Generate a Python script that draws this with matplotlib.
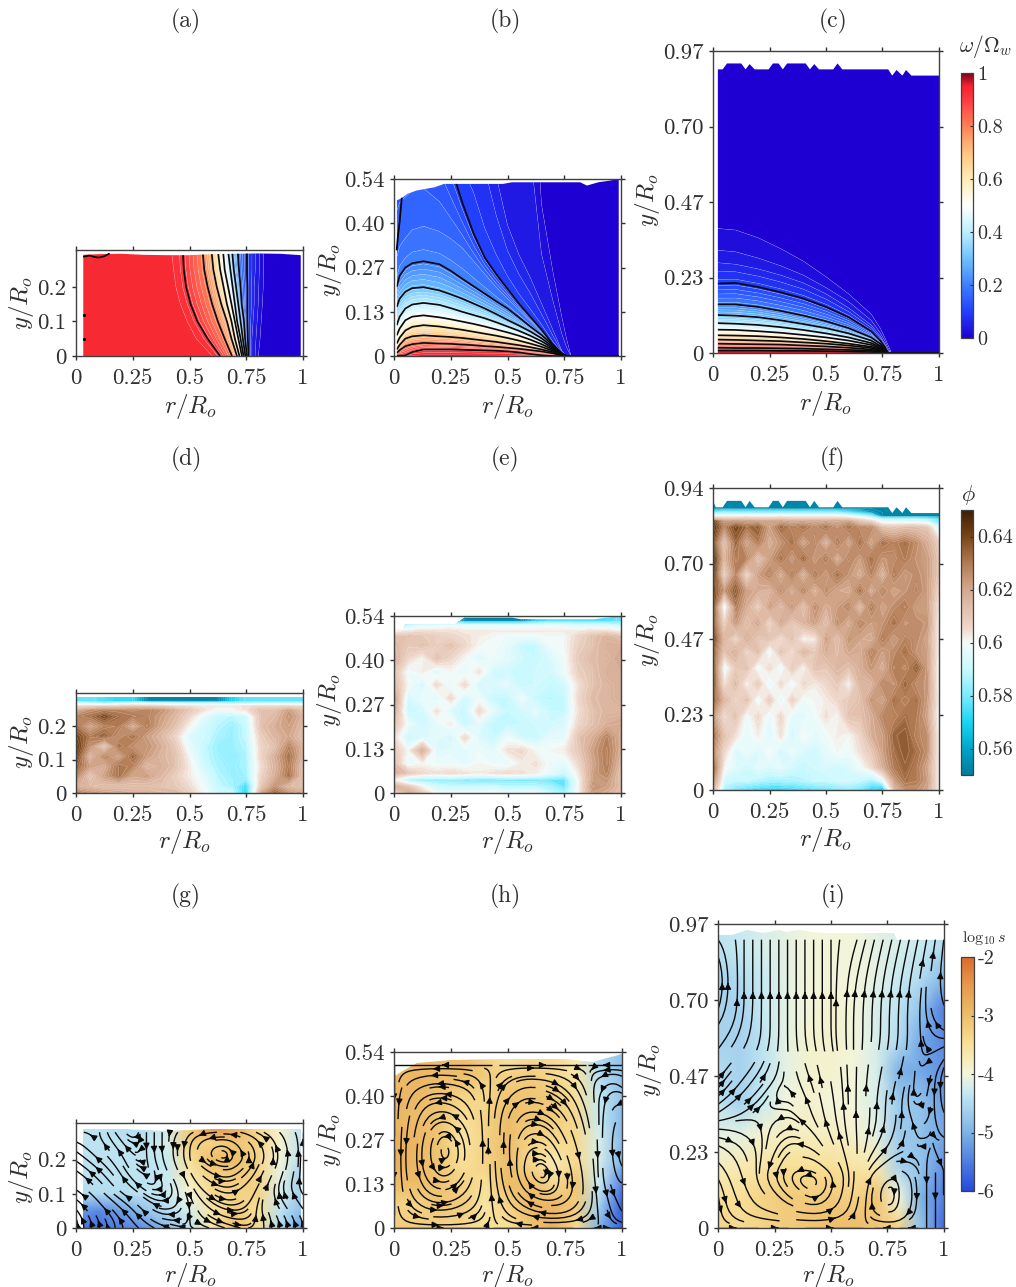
import numpy as np
import matplotlib
matplotlib.use("Agg")
import matplotlib.pyplot as plt
from matplotlib.colors import LinearSegmentedColormap, Normalize
from matplotlib.patches import Polygon
from matplotlib.cm import ScalarMappable

W, H = 1016, 1287
plt.rcParams['mathtext.fontset'] = 'cm'
plt.rcParams['font.family'] = ['cmr10', 'DejaVu Serif']
plt.rcParams['axes.formatter.use_mathtext'] = True
DARK = '#303030'

# ---------- omega panels: position of each iso-level
a_y = [0, .05, .1, .15, .2, .25, .31]
a_levels = [.95, .93, .9, .8, .7, .6, .5, .4, .3, .2, .1, .05, 0, 0]
a_r = [
    [0, 0, 0, 0, 0, 0, 0],
    [.60, .53, .49, .46, .44, .43, .42],
    [.635, .58, .535, .505, .485, .475, .47],
    [.687, .655, .625, .60, .58, .565, .557],
    [.709, .685, .665, .64, .62, .605, .596],
    [.72, .70, .685, .665, .65, .635, .624],
    [.731, .715, .70, .685, .67, .655, .647],
    [.738, .725, .71, .70, .69, .68, .669],
    [.746, .735, .725, .715, .705, .695, .687],
    [.753, .745, .74, .73, .725, .718, .712],
    [.76, .757, .755, .755, .755, .753, .753],
    [.775, .775, .78, .785, .785, .79, .79],
    [.81, .82, .825, .83, .835, .835, .835],
    [1, 1, 1, 1, 1, 1, 1],
]
a_top_r = [.035, .06, .08, .10, .125, .145]
a_top_y = [.288, .291, .287, .285, .289, .296]
a_dot_r = [.036, .036]
a_dot_y = [.118, .05]
a_clip_r = [.032, .10, .20, .30, .40, .50, .60, .70, .80, .90, .99]
a_clip_y = [.293, .295, .296, .293, .292, .292, .295, .296, .297, .296, .292]

b_r = [.012, .025, .05, .08, .13, .2, .25, .3, .35, .4, .45, .5, .55, .6, .65, .7, .74, .76, .78, 1]
b_levels = [.96, .9, .8, .7, .6, .5, .4, .3, .2, .17, .1, .05, .005, 0]
b_y = [
    [0] * 20,
    [.001, .001, .002, .012, .02, .02, .02, .019, .018, .017, .016, .014, .011, .006, .002, 0, 0, 0, 0, 0],
    [.009, .018, .03, .036, .04, .038, .037, .035, .033, .03, .028, .025, .022, .018, .014, .008, .002, 0, 0, 0],
    [.02, .034, .053, .06, .063, .06, .058, .055, .051, .047, .043, .038, .033, .027, .02, .012, .003, 0, 0, 0],
    [.038, .056, .078, .089, .094, .09, .085, .08, .074, .068, .062, .055, .047, .038, .028, .016, .004, 0, 0, 0],
    [.063, .084, .109, .12, .124, .118, .112, .105, .098, .09, .081, .072, .062, .05, .036, .02, .005, 0, 0, 0],
    [.094, .12, .145, .157, .162, .156, .146, .135, .125, .115, .103, .09, .077, .062, .045, .024, .006, 0, 0, 0],
    [.15, .175, .196, .207, .21, .20, .188, .175, .16, .145, .128, .11, .093, .075, .054, .028, .007, 0, 0, 0],
    [.211, .245, .27, .283, .289, .28, .26, .236, .213, .19, .167, .145, .118, .09, .064, .033, .008, 0, 0, 0],
    [.30, .335, .36, .385, .396, .38, .358, .33, .29, .25, .21, .175, .14, .105, .07, .034, .008, 0, 0, 0],
    [.8, .8, .8, .8, .8, .7, .58, .47, .375, .30, .25, .205, .16, .12, .08, .035, .008, 0, 0, 0],
    [1, 1, 1, 1, 1, 1, 1, 1, 1, .75, .55, .40, .31, .24, .16, .08, .015, 0, 0, 0],
    [1.2, 1.2, 1.2, 1.2, 1.2, 1.2, 1.2, 1.2, 1.2, 1.2, 1.2, 1.2, 1.2, 1.1, .5, .28, .13, .06, 0, 0],
    [2] * 20,
]
b_wall_r = [.012, .018, .025, .03, .034]
b_wall_y = [.325, .37, .41, .45, .48]
b_clip_r = [.012, .03, .06, .10, .18, .22, .35, .48, .52, .60, .82, .85, .90, .95, .99]
b_clip_y = [.475, .48, .495, .505, .515, .525, .525, .525, .53, .53, .53, .52, .53, .535, .54]

c_r = [.02, .1, .2, .3, .4, .5, .6, .7, .74, .76, .775, .79, 1]
c_levels = [.96, .95, .9, .8, .7, .6, .5, .4, .3, .2, .1, .05, .03, .01, 0]
c_y = [
    [0] * 13,
    [.008, .008, .008, .007, .007, .006, .005, .003, .002, .001, 0, 0, 0],
    [.017, .016, .016, .015, .014, .012, .01, .007, .004, .002, 0, 0, 0],
    [.03, .029, .028, .027, .024, .021, .017, .011, .007, .003, 0, 0, 0],
    [.043, .042, .04, .038, .034, .03, .024, .016, .009, .004, 0, 0, 0],
    [.057, .056, .054, .05, .045, .038, .03, .02, .012, .005, 0, 0, 0],
    [.075, .074, .07, .065, .058, .05, .04, .026, .015, .006, 0, 0, 0],
    [.096, .094, .09, .083, .074, .063, .05, .032, .019, .008, 0, 0, 0],
    [.122, .12, .115, .105, .093, .08, .063, .04, .023, .01, 0, 0, 0],
    [.156, .156, .148, .135, .12, .102, .08, .05, .03, .014, 0, 0, 0],
    [.223, .225, .212, .195, .175, .148, .115, .07, .04, .02, 0, 0, 0],
    [.29, .285, .27, .25, .225, .19, .145, .09, .055, .03, .008, 0, 0],
    [.33, .325, .305, .28, .25, .21, .165, .105, .065, .04, .015, 0, 0],
    [.40, .395, .37, .335, .295, .245, .19, .125, .08, .05, .025, 0, 0],
    [2, 2, 2, 2, 2, 2, 2, 2, 2, 2, 2, 2, 2],
]
c_clip_r = [.021, .043, .062, .125, .144, .162, .184, .246, .265, .29, .309, .328, .41,
            .429, .448, .469, .532, .551, .572, .775, .793, .812, .838, .854, .878, 1.0]
c_clip_y = [.911, .911, .93, .93, .911, .928, .911, .911, .93, .93, .911, .93, .93,
            .911, .928, .911, .911, .93, .911, .911, .891, .909, .891, .909, .891, .891]

# ---------- phi panels (values x 1000)
d_e_r = [0, .0625, .125, .1875, .25, .3125, .375, .4375, .5, .5625, .625, .6875, .75, .8125, .875, .9375, 1]
d_y = [0, .02, .05, .08, .11, .14, .17, .20, .23, .25, .262, .268, .275, .29]
phi_d = [
    [630, 625, 622, 620, 618, 618, 615, 615, 608, 600, 592, 590, 570, 620, 635, 625, 620],
    [618, 615, 612, 612, 612, 612, 612, 610, 605, 598, 590, 586, 572, 610, 625, 615, 612],
    [628, 610, 622, 632, 620, 622, 615, 608, 602, 596, 588, 584, 585, 606, 618, 632, 612],
    [635, 622, 618, 632, 628, 615, 618, 612, 602, 592, 586, 584, 586, 604, 616, 630, 612],
    [642, 615, 628, 620, 634, 622, 616, 612, 600, 590, 585, 583, 586, 606, 618, 632, 616],
    [645, 625, 610, 632, 625, 625, 618, 610, 596, 590, 584, 584, 588, 606, 612, 628, 616],
    [640, 630, 635, 625, 632, 622, 615, 606, 594, 592, 586, 584, 590, 608, 616, 620, 612],
    [632, 620, 628, 630, 618, 630, 620, 612, 600, 592, 588, 584, 590, 612, 618, 622, 614],
    [628, 632, 640, 632, 630, 628, 622, 615, 606, 596, 590, 588, 592, 612, 614, 625, 616],
    [618, 625, 628, 628, 626, 628, 625, 618, 610, 604, 598, 600, 604, 612, 612, 622, 612],
    [605, 606, 610, 610, 612, 612, 610, 605, 604, 602, 602, 602, 604, 606, 606, 606, 604],
    [592, 590, 585, 590, 592, 590, 588, 586, 585, 585, 585, 585, 587, 590, 590, 590, 590],
    [578, 578, 575, 572, 572, 552, 552, 552, 552, 552, 552, 570, 578, 578, 578, 578, 578],
    [578, 578, 575, 572, 572, 552, 552, 552, 552, 552, 552, 570, 578, 578, 578, 578, 578],
]
d_clip_r = [0, 1]
d_clip_y = [.287, .287]

e_y = [0, .02, .04, .06, .09, .13, .17, .21, .25, .29, .33, .37, .41, .45, .48, .495, .51, .525, .54]
phi_e = [
    [605, 620, 610, 598, 598, 598, 598, 600, 598, 598, 598, 590, 585, 600, 622, 618, 612],
    [622, 612, 600, 592, 590, 590, 590, 590, 588, 588, 588, 585, 578, 600, 625, 622, 614],
    [600, 585, 582, 582, 582, 580, 578, 578, 580, 580, 580, 578, 578, 600, 622, 624, 612],
    [618, 612, 606, 604, 606, 604, 602, 604, 606, 604, 602, 596, 590, 602, 622, 628, 612],
    [614, 596, 600, 598, 598, 596, 600, 598, 596, 602, 604, 598, 596, 606, 620, 630, 615],
    [610, 600, 620, 594, 596, 596, 598, 596, 604, 606, 600, 600, 602, 610, 622, 630, 618],
    [605, 590, 594, 596, 592, 606, 594, 590, 598, 592, 590, 596, 596, 612, 618, 628, 618],
    [612, 598, 592, 596, 602, 590, 596, 588, 590, 590, 592, 592, 594, 606, 612, 618, 620],
    [620, 590, 592, 604, 594, 590, 606, 596, 590, 592, 596, 590, 590, 604, 612, 616, 616],
    [625, 592, 598, 594, 606, 592, 598, 590, 590, 598, 590, 588, 590, 606, 614, 616, 618],
    [615, 600, 592, 606, 596, 606, 592, 594, 596, 590, 592, 590, 592, 604, 612, 616, 618],
    [612, 598, 602, 594, 600, 596, 604, 592, 592, 590, 592, 592, 598, 608, 612, 618, 618],
    [618, 606, 600, 612, 606, 600, 594, 598, 596, 592, 590, 594, 598, 610, 614, 616, 620],
    [615, 610, 612, 608, 612, 606, 600, 600, 596, 590, 590, 598, 600, 608, 612, 618, 618],
    [612, 612, 610, 608, 606, 604, 602, 600, 598, 598, 598, 600, 600, 606, 612, 616, 612],
    [598, 602, 604, 604, 604, 602, 602, 602, 602, 602, 602, 602, 602, 602, 604, 604, 600],
    [575, 590, 596, 596, 598, 596, 596, 596, 596, 596, 596, 598, 596, 594, 594, 594, 590],
    [552, 570, 575, 578, 575, 552, 552, 552, 552, 552, 570, 575, 575, 575, 575, 575, 578],
    [552, 570, 575, 578, 575, 552, 552, 552, 552, 552, 570, 575, 575, 575, 575, 575, 578],
]
e_clip_r = [0, .04, .05, .27, .31, .52, .56, .88, 1]
e_clip_y = [.50, .50, .515, .515, .535, .535, .53, .53, .54]

f_r = [0, .05, .1, .15, .2, .25, .3, .35, .4, .45, .5, .55, .6, .65, .7, .75, .8, .85, .9, .95, 1]
f_y = [0, .03, .07, .12, .17, .23, .28, .33, .38, .43, .47, .52, .57, .62, .67, .72, .77, .82, .84, .852, .864, .876, .94]
phi_f = [
    [620, 585, 578, 575, 572, 570, 570, 572, 574, 576, 578, 580, 582, 578, 570, 558, 615, 625, 625, 620, 600],
    [630, 592, 590, 590, 588, 586, 586, 586, 588, 590, 590, 592, 592, 590, 585, 595, 622, 632, 630, 622, 600],
    [640, 600, 595, 592, 596, 594, 596, 592, 590, 592, 594, 592, 594, 598, 605, 618, 630, 634, 630, 620, 600],
    [628, 606, 594, 598, 594, 600, 592, 598, 594, 592, 596, 600, 598, 604, 610, 622, 632, 636, 632, 625, 600],
    [634, 612, 604, 596, 602, 594, 604, 592, 600, 596, 598, 602, 600, 606, 618, 622, 634, 636, 628, 625, 600],
    [625, 604, 612, 598, 606, 596, 606, 596, 596, 598, 604, 600, 612, 612, 618, 628, 628, 632, 630, 620, 598],
    [636, 616, 606, 612, 596, 610, 594, 608, 598, 600, 602, 606, 610, 612, 624, 620, 632, 628, 632, 622, 600],
    [640, 604, 614, 600, 610, 594, 606, 596, 606, 602, 606, 610, 600, 616, 616, 628, 624, 634, 626, 624, 598],
    [642, 596, 610, 612, 596, 606, 596, 610, 600, 612, 610, 616, 612, 618, 624, 618, 630, 626, 636, 622, 598],
    [636, 612, 618, 606, 614, 596, 612, 604, 616, 610, 618, 614, 620, 618, 628, 622, 626, 632, 624, 622, 600],
    [642, 616, 606, 618, 610, 612, 604, 612, 600, 602, 622, 612, 624, 620, 618, 630, 622, 628, 626, 620, 600],
    [638, 608, 624, 612, 620, 606, 620, 610, 616, 622, 612, 626, 618, 628, 622, 624, 632, 624, 626, 624, 600],
    [644, 594, 630, 618, 608, 622, 614, 624, 612, 626, 618, 622, 628, 614, 630, 620, 626, 630, 622, 622, 602],
    [640, 624, 636, 622, 618, 616, 626, 618, 628, 616, 626, 620, 618, 632, 618, 628, 620, 624, 628, 622, 606],
    [648, 608, 628, 606, 622, 628, 618, 630, 616, 630, 622, 632, 624, 618, 628, 616, 630, 622, 626, 622, 610],
    [650, 616, 630, 628, 612, 622, 632, 622, 634, 622, 630, 618, 628, 622, 632, 624, 626, 630, 624, 622, 610],
    [640, 612, 634, 620, 630, 618, 624, 632, 620, 628, 616, 630, 620, 632, 620, 632, 628, 632, 626, 618, 608],
    [645, 628, 640, 632, 636, 622, 634, 628, 632, 626, 632, 624, 632, 626, 628, 612, 610, 612, 612, 610, 590],
    [640, 622, 622, 620, 620, 620, 620, 618, 618, 618, 618, 618, 620, 610, 604, 590, 590, 590, 590, 585, 575],
    [600, 600, 600, 602, 600, 600, 602, 600, 600, 600, 600, 600, 596, 590, 580, 552, 552, 552, 552, 552, 552],
    [575, 580, 578, 578, 578, 578, 578, 578, 578, 578, 578, 578, 572, 565, 556, 552, 552, 552, 552, 552, 552],
    [552, 552, 552, 552, 552, 552, 552, 552, 552, 552, 552, 552, 552, 552, 552, 552, 552, 552, 552, 552, 552],
    [552, 552, 552, 552, 552, 552, 552, 552, 552, 552, 552, 552, 552, 552, 552, 552, 552, 552, 552, 552, 552],
]
f_clip_r = [0, .012, .043, .062, .125, .144, .162, .184, .246, .265, .29, .309, .328, .41,
            .429, .448, .469, .532, .551, .572, .775, .793, .812, .838, .854, .878, 1.0]
f_clip_y = [.90, .88, .88, .90, .90, .88, .90, .88, .88, .90, .90, .88, .90, .90,
            .88, .90, .88, .88, .90, .88, .88, .862, .88, .862, .88, .862, .862]

# ---------- log10 s panels
s_r = [0, .1, .2, .3, .4, .5, .6, .7, .8, .9, 1]
g_y = [0, .05, .1, .15, .2, .25, .30]
s_g = [
    [-5.6, -5.6, -5.5, -5.3, -4.9, -4.4, -3.6, -3.0, -3.4, -4.5, -5.2],
    [-5.2, -5.4, -5.2, -4.8, -4.5, -4.2, -3.6, -3.2, -3.5, -4.4, -4.9],
    [-4.5, -4.5, -4.5, -4.4, -4.3, -4.0, -3.4, -3.3, -3.3, -4.2, -4.7],
    [-4.4, -4.4, -4.4, -4.4, -4.3, -3.7, -3.3, -3.2, -3.3, -4.1, -4.7],
    [-4.4, -4.4, -4.4, -4.4, -4.3, -3.5, -3.0, -3.0, -3.3, -4.0, -4.5],
    [-4.4, -4.4, -4.4, -4.4, -4.2, -3.2, -3.3, -3.1, -3.3, -3.9, -4.4],
    [-4.4, -4.4, -4.5, -4.5, -4.3, -3.2, -2.3, -2.6, -3.4, -3.9, -4.4],
]
g_clip_r = [.03, .2, .4, .6, .8, .99]
g_clip_y = [.29, .29, .283, .29, .29, .288]
h_y = [0, .07, .135, .2, .27, .34, .405, .47, .54]
s_h = [
    [-3.2, -3.2, -3.3, -3.4, -3.5, -3.5, -3.1, -2.8, -3.4, -5.0, -5.8],
    [-3.3, -3.3, -3.1, -3.2, -3.6, -3.3, -2.9, -2.9, -3.2, -4.6, -5.8],
    [-3.0, -3.0, -3.1, -3.3, -3.5, -3.0, -3.0, -3.4, -3.1, -4.3, -5.5],
    [-2.8, -2.9, -3.1, -3.5, -3.3, -3.0, -3.4, -3.7, -3.4, -4.2, -5.0],
    [-2.8, -2.9, -3.1, -3.6, -3.3, -3.0, -3.3, -3.4, -3.4, -4.2, -4.9],
    [-2.9, -3.0, -3.1, -3.5, -3.3, -3.0, -3.1, -3.2, -3.4, -4.3, -4.9],
    [-2.9, -2.9, -3.1, -3.3, -3.4, -3.1, -3.1, -3.2, -3.5, -4.3, -4.8],
    [-3.0, -2.9, -3.0, -3.0, -3.2, -3.3, -3.2, -3.4, -3.6, -4.5, -4.8],
    [-3.0, -3.0, -3.0, -3.0, -3.3, -3.7, -3.5, -3.4, -3.8, -4.5, -4.8],
]
h_clip_r = [.005, .03, .1, .25, .5, .75, .87, .95, 1]
h_clip_y = [.465, .48, .505, .515, .52, .52, .51, .525, .535]
i_y = [0, .1, .2, .3, .4, .5, .6, .7, .8, .9, .97]
s_i = [
    [-3.3, -3.4, -3.3, -3.2, -3.1, -3.0, -3.0, -3.1, -3.3, -4.8, -5.7],
    [-3.5, -3.5, -3.3, -3.2, -3.2, -3.2, -3.3, -3.1, -4.0, -5.0, -5.5],
    [-3.8, -3.7, -3.6, -3.5, -3.5, -3.5, -3.6, -3.7, -4.6, -4.8, -5.3],
    [-4.1, -4.1, -3.9, -3.8, -3.8, -3.8, -3.9, -4.1, -4.7, -4.8, -5.1],
    [-4.4, -4.6, -4.3, -4.0, -3.9, -4.0, -4.0, -4.2, -4.7, -4.8, -5.2],
    [-4.5, -4.6, -4.4, -4.1, -3.9, -3.9, -4.0, -4.2, -5.0, -5.1, -5.3],
    [-4.6, -4.6, -4.4, -4.1, -3.9, -3.9, -4.0, -4.2, -4.5, -5.1, -5.4],
    [-4.6, -4.6, -4.3, -4.1, -4.0, -3.9, -4.0, -4.2, -4.4, -4.8, -5.5],
    [-4.6, -4.5, -4.3, -4.1, -4.0, -4.0, -4.0, -4.1, -4.3, -4.5, -4.9],
    [-4.4, -4.3, -4.2, -4.1, -4.0, -4.0, -4.0, -4.1, -4.2, -4.3, -4.5],
    [-4.4, -4.3, -4.2, -4.1, -4.0, -4.0, -4.0, -4.1, -4.2, -4.3, -4.5],
]
i_clip_r = [.005, .06, .13, .2, .27, .3, .36, .45, .6, .78, .79, .85, 1]
i_clip_y = [.935, .935, .95, .94, .95, .945, .95, .94, .94, .94, .92, .92, .92]

# ---------- stream functions
psi_r = [0, .1, .2, .3, .4, .5, .6, .7, .8, .9, 1]
psi_g_y_top, psi_h_y_top, psi_i_y_top = .28, .50, .92
psi_g = [
    [6, 5, 4, 3, 2, 2, 2, 3, 3, 2, 1],
    [6, 5, 4, 2, 1, 2, 3, 4, 3, 2, 1],
    [5, 4, 2, 1, 0, 2, 4, 5, 3, 1, 0],
    [4, 3, 1, 0, 0, 3, 6, 6, 4, 1, 0],
    [3, 2, .5, 0, 1, 4, 8, 8, 5, 2, 0],
    [2, 1, .3, 0, 1, 5, 12, 9, 6, 2, 0],
    [1, 1, 0, 0, 1, 3, 5, 5, 3, 1, 0],
]
psi_h = [
    [0, 0, 0, 0, 0, 0, 0, 0, 0, 0, 0],
    [0, 4, 5, 4, 1, -2, -5, -7, -5, 0, 1],
    [0, 6, 8, 7, 1, -4, -10, -9, -6, 1, 1],
    [0, 7, 9.5, 9.5, 1, -5, -10, -9, -5, 1, 2],
    [0, 7, 10, 10, 1, -5, -9, -7, -4, 1, 2],
    [0, 6, 9, 8, 1, -5, -7, -6, -3, 1, 2],
    [0, 5, 6, 5, 1, -4, -5, -4, -2, 1, 1],
    [0, 3, 3, 3, 1, -2, -3, -2, -1, 1, .5],
    [0, 0, 0, 0, 0, 0, 0, 0, 0, 0, 0],
]
psi_i = [
    [3, 3, 3, 3, 3, 3, 3, 3, 3, 3, 3],
    [3, 6, 9, 10, 13, 12, 6, -1, 1, 3, 3],
    [4, 6, 8, 9, 10, 8.5, 6, 2.5, 2.5, 3, 3],
    [7, 7.5, 8, 8.5, 8.5, 7.5, 5.5, 4, 3, 3, 3],
    [8.5, 8, 8, 8, 8, 7, 5.5, 4, 3, 2.8, 3.2],
    [9, 8.5, 8, 8, 8, 7, 5.5, 4, 3, 2.6, 3.4],
    [9.5, 9, 8.5, 8, 7.5, 6.5, 5.5, 4.5, 3.5, 2.6, 3.2],
    [10, 9.5, 8.5, 8, 7.5, 6.5, 5.5, 4.5, 3.5, 2.5, 2],
    [10.5, 9.5, 8.5, 8, 7.5, 6.5, 5.5, 4.5, 3.5, 2.5, 1.5],
    [10.5, 9.5, 8.5, 8, 7.5, 6.5, 5.7, 4.7, 3.7, 2.7, 1.5],
    [10, 9.5, 8.5, 8, 7.5, 6.5, 6, 5, 4, 3, 1.7],
]

# ---------- ticks and labels
r_ticks = [0, .25, .5, .75, 1]
r_labels = ['0', '0.25', '0.5', '0.75', '1']
y_ticks_a, y_labels_a = [0, .1, .2], ['0', '0.1', '0.2']
y_ticks_b, y_labels_b = [0, .135, .27, .405, .54], ['0', '0.13', '0.27', '0.40', '0.54']
y_ticks_c, y_labels_c = [0, .2425, .485, .7275, .97], ['0', '0.23', '0.47', '0.70', '0.97']
y_ticks_f, y_labels_f = [0, .235, .47, .705, .94], ['0', '0.23', '0.47', '0.70', '0.94']

cmap_w = LinearSegmentedColormap.from_list('w', [
    (0, '#1E00D2'), (.1, '#2240FF'), (.2, '#3F80FF'), (.3, '#70C2FF'), (.4, '#BCEFFF'),
    (.5, '#FFFFFF'), (.6, '#FFEDB4'), (.7, '#FFC480'), (.8, '#FF8058'), (.9, '#FF3A42'),
    (.95, '#F5252F'), (1, '#80001C')])
cmap_p = LinearSegmentedColormap.from_list('p', [
    (0, '#007C9B'), (.1, '#00A6CC'), (.2, '#1AD6F5'), (.3, '#7CEAFF'), (.4, '#C8F9FF'),
    (.5, '#F4FAF8'), (.55, '#F0DACE'), (.7, '#D4A88E'), (.8, '#B27C55'), (.9, '#7A4519'),
    (1, '#3C1E06')])
cmap_s = LinearSegmentedColormap.from_list('s', [
    (0, '#2449DC'), (.25, '#7DB3E6'), (.42, '#C5E9F3'), (.5, '#F3F5DC'), (.62, '#F9E29A'),
    (.75, '#EDBE6A'), (.88, '#E69A4C'), (1, '#DC6A2E')])

fig = plt.figure(figsize=(W / 100, H / 100), dpi=100)


def px_axes(l, t, r, b):
    return fig.add_axes([l / W, 1 - b / H, (r - l) / W, (b - t) / H])


def style(ax, ytop, yt, yl):
    ax.set_xlim(0, 1)
    ax.set_ylim(0, ytop)
    ax.set_xticks(r_ticks, r_labels)
    ax.set_yticks(yt, yl)
    ax.tick_params(direction='out', length=3, width=1, top=True, right=True,
                   labelsize=16.5, colors=DARK, pad=4)
    ax.tick_params(axis='x', pad=6)
    for s in ax.spines.values():
        s.set_linewidth(1.0)
        s.set_color('#404040')
        s.set_zorder(10)


def clip(ax, cr, cy):
    pts = [(cr[0], 0)] + list(zip(cr, cy)) + [(cr[-1], 0)]
    return Polygon(pts, closed=True, transform=ax.transData, fc='none', ec='none')


def txt(x, y, s, **kw):
    kw.setdefault('fontsize', 17)
    kw.setdefault('color', DARK)
    fig.text(x / W, 1 - y / H, s, ha='center', va='center', **kw)


w_levels = np.arange(-.01, 1.001, .02)
white_levels = np.arange(.01, .99, .02)
black_levels = [.1, .2, .3, .4, .5, .6, .7, .8, .9]


def omega_panel(ax, X, Y, Z, patch, black=black_levels):
    ax.add_patch(patch)
    cf = ax.contourf(X, Y, Z, levels=w_levels, cmap=cmap_w, vmin=0, vmax=1, antialiased=True)
    cf.set_clip_path(patch)
    cw = ax.contour(X, Y, Z, levels=white_levels, colors='white', linewidths=.3, alpha=.35)
    cw.set_clip_path(patch)
    cb = ax.contour(X, Y, Z, levels=black, colors='#0a0a0a', linewidths=1.25)
    cb.set_clip_path(patch)


# (a)
ax = px_axes(76, 250, 303, 356)
Xa = np.array(a_r, float).T
Ya = np.tile(np.array(a_y)[:, None], (1, len(a_levels)))
Za = np.tile(np.array(a_levels), (len(a_y), 1))
omega_panel(ax, Xa, Ya, Za, clip(ax, a_clip_r, a_clip_y))
ax.plot(a_top_r, a_top_y, color='k', lw=1.2)
ax.plot(a_dot_r, a_dot_y, 'k.', ms=2.5)
style(ax, .307, y_ticks_a, y_labels_a)

# (b)
ax = px_axes(394, 179, 621, 356)
Yb = np.array(b_y, float)
Xb = np.tile(np.array(b_r), (len(b_levels), 1))
Zb = np.tile(np.array(b_levels)[:, None], (1, len(b_r)))
omega_panel(ax, Xb, Yb, Zb, clip(ax, b_clip_r, b_clip_y))
ax.plot(b_wall_r, b_wall_y, color='k', lw=1.25)
style(ax, .54, y_ticks_b, y_labels_b)

# (c)
ax = px_axes(713, 51, 939, 353)
Yc = np.array(c_y, float)
Xc = np.tile(np.array(c_r), (len(c_levels), 1))
Zc = np.tile(np.array(c_levels)[:, None], (1, len(c_r)))
omega_panel(ax, Xc, Yc, Zc, clip(ax, c_clip_r, c_clip_y), black=black_levels + [.95])
style(ax, .97, y_ticks_c, y_labels_c)


def phi_panel(ax, rr, yy, vals, patch):
    ax.add_patch(patch)
    Z = np.array(vals, float) / 1000
    cf = ax.contourf(rr, yy, Z, levels=np.linspace(.55, .65, 61), cmap=cmap_p, vmin=.55, vmax=.65, extend='both')
    cf.set_clip_path(patch)
    cw = ax.contour(rr, yy, Z, levels=np.arange(.552, .65, .0025), colors='white', linewidths=.3, alpha=.35)
    cw.set_clip_path(patch)


ax = px_axes(76, 693, 303, 793)
phi_panel(ax, d_e_r, d_y, phi_d, clip(ax, d_clip_r, d_clip_y))
style(ax, .30, y_ticks_a, y_labels_a)
ax = px_axes(394, 616, 621, 793)
phi_panel(ax, d_e_r, e_y, phi_e, clip(ax, e_clip_r, e_clip_y))
style(ax, .54, y_ticks_b, y_labels_b)
ax = px_axes(713, 488, 939, 790)
phi_panel(ax, f_r, f_y, phi_f, clip(ax, f_clip_r, f_clip_y))
style(ax, .94, y_ticks_f, y_labels_f)


def s_panel(ax, yy, vals, patch, psi, ytop, dens, maxlen):
    ax.add_patch(patch)
    m = ax.pcolormesh(s_r, yy, np.array(vals), cmap=cmap_s, vmin=-6, vmax=-2, shading='gouraud')
    m.set_clip_path(patch)
    P = np.array(psi, float)
    gy = np.linspace(0, ytop, P.shape[0])
    gx = np.array(psi_r)
    dy_, dx_ = np.gradient(P, gy, gx)
    return ax.streamplot(gx, gy, dy_, -dx_, density=dens, color='#0a0a0a', linewidth=1.0,
                         arrowsize=.9, arrowstyle='-|>', minlength=.08, maxlength=maxlen)


ax = px_axes(76, 1123, 303, 1228)
s_panel(ax, g_y, s_g, clip(ax, g_clip_r, g_clip_y), psi_g, psi_g_y_top, (1.0, .7), .8)
style(ax, .307, y_ticks_a, y_labels_a)
ax = px_axes(394, 1052, 622, 1228)
s_panel(ax, h_y, s_h, clip(ax, h_clip_r, h_clip_y), psi_h, psi_h_y_top, (1.0, 1.0), .8)
style(ax, .54, y_ticks_b, y_labels_b)
ax = px_axes(718, 924, 944, 1228)
s_panel(ax, i_y, s_i, clip(ax, i_clip_r, i_clip_y), psi_i, psi_i_y_top, (.9, 1.2), .8)
style(ax, .97, y_ticks_c, y_labels_c)


def cbar(l, t, r, b, cmap, vmin, vmax, ticks, labels):
    cax = px_axes(l, t, r, b)
    cb = fig.colorbar(ScalarMappable(Normalize(vmin, vmax), cmap), cax=cax)
    cb.set_ticks(ticks, labels=labels)
    cb.ax.tick_params(direction='in', length=2.5, width=.8, labelsize=14.5, colors=DARK, pad=3)
    cb.outline.set_linewidth(.9)
    cb.outline.set_edgecolor('#404040')


cbar_w_ticks, cbar_w_labels = [0, .2, .4, .6, .8, 1], ['0', '0.2', '0.4', '0.6', '0.8', '1']
cbar_p_ticks, cbar_p_labels = [.56, .58, .6, .62, .64], ['0.56', '0.58', '0.6', '0.62', '0.64']
cbar_s_ticks, cbar_s_labels = [-6, -5, -4, -3, -2], ['-6', '-5', '-4', '-3', '-2']
cbar(961, 73, 973, 338, cmap_w, 0, 1, cbar_w_ticks, cbar_w_labels)
cbar(961, 510, 973, 775, cmap_p, .55, .65, cbar_p_ticks, cbar_p_labels)
cbar(961, 957, 974, 1191, cmap_s, -6, -2, cbar_s_ticks, cbar_s_labels)

txt(986, 47, r'$\omega/\Omega_w$', fontsize=15.5)
txt(968, 495, r'$\phi$', fontsize=16)
txt(984, 938, r'$\log_{10} s$', fontsize=11.5)

titles = ['(a)', '(b)', '(c)', '(d)', '(e)', '(f)', '(g)', '(h)', '(i)']
title_x = [186, 505, 833] * 3
title_y = [21] * 3 + [459] * 3 + [896] * 3
for t, x_, y_ in zip(titles, title_x, title_y):
    txt(x_, y_, t)

xlab_x = [190, 507, 825, 184, 507, 825, 190, 507, 828]
xlab_y = [406, 406, 404, 842, 842, 840, 1275, 1275, 1275]
ylab_x = [22, 330, 648, 22, 330, 648, 22, 330, 650]
ylab_y = [303, 270, 200, 742, 700, 640, 1177, 1140, 1070]
for x_, y_ in zip(xlab_x, xlab_y):
    txt(x_, y_, r'$r/R_o$', fontsize=18)
for x_, y_ in zip(ylab_x, ylab_y):
    txt(x_, y_, r'$y/R_o$', fontsize=18, rotation=90)

fig.savefig('out.png', dpi=100)
